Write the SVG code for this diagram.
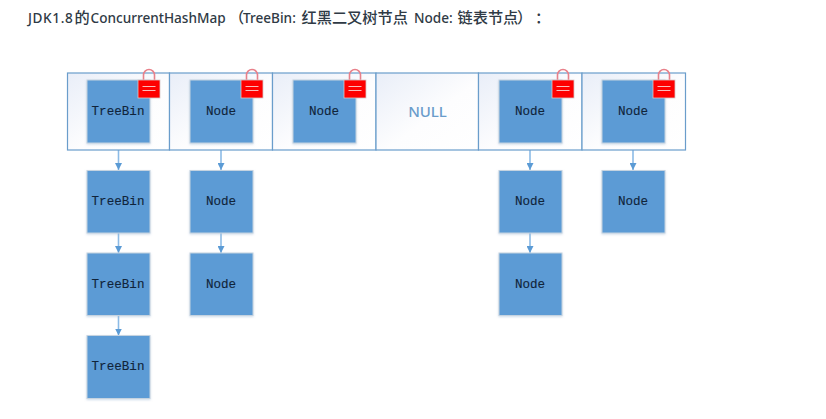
<svg xmlns="http://www.w3.org/2000/svg" width="826" height="419" viewBox="0 0 826 419">
<style>
.cell{stroke:#6a9dcb;stroke-width:1.2}
.n{fill:#5b9bd5;stroke:#c5d3e0;stroke-width:1;filter:url(#s)}
.t{font:12.6px "Liberation Mono","DejaVu Sans Mono",monospace;fill:#10243a;stroke:#10243a;stroke-width:.12;text-anchor:middle}
.c{stroke:#8cbbe6;stroke-width:1.6;fill:none;marker-end:url(#a)}
.lk{fill:#fe0000;stroke:#d8c8c8;stroke-width:.8}
.sh{fill:none;stroke:#e8808a;stroke-width:1.6}
.ln{stroke:#fbd0d0;stroke-width:.9}
.ti{font-family:"Noto Sans","Noto Sans CJK SC",sans-serif;font-size:13.6px;font-weight:500;fill:#2f3a45}
.cj{font-family:"Noto Sans CJK SC",sans-serif;font-size:15.2px;font-weight:500}
.sp{letter-spacing:.6px}
</style>
<defs>
<linearGradient id="g" x1="0" y1="0" x2="1" y2="1"><stop offset="0" stop-color="#e9eef8"/><stop offset=".55" stop-color="#fdfdfe"/><stop offset="1" stop-color="#fff"/></linearGradient>
<filter id="s" x="-10%" y="-10%" width="120%" height="120%"><feDropShadow dx="0" dy="1" stdDeviation="1" flood-color="#9db8d4" flood-opacity=".5"/></filter>
<marker id="a" markerUnits="userSpaceOnUse" markerWidth="8" markerHeight="7" refX="7" refY="3.500" orient="auto"><path d="M0 0L7 3.500L0 7Z" fill="#5b9bd5"/></marker>
<g id="lock"><path class="sh" d="M5.500 11V6a5.500 5.500 0 0 1 11 0V11"/><rect class="lk" x="0" y="11" width="22" height="18"/><path class="ln" d="M4.500 17.500H17.500M4.500 21.500H17.500"/></g>
</defs>
<rect width="826" height="419" fill="#fff"/>
<text class="ti" y="23"><tspan class="sp" x="28">JDK1.8</tspan><tspan class="cj" x="74.500">的</tspan><tspan x="90.500">ConcurrentHashMap</tspan><tspan class="cj" x="229">（</tspan><tspan x="243">TreeBin:</tspan><tspan class="cj" x="301.500">红黑二叉树节点</tspan><tspan x="414">Node:</tspan><tspan class="cj" x="457.500">链表节点</tspan><tspan class="cj" x="517">）</tspan><tspan class="cj" x="535">：</tspan></text>
<g id="connectors">
<path class="c" d="M118.500 143V170"/><path class="c" d="M118.500 233V253"/><path class="c" d="M118.500 315.500V335.500"/>
<path class="c" d="M221 143V170"/><path class="c" d="M221 233V253"/>
<path class="c" d="M530 143V170"/><path class="c" d="M530 233V253"/>
<path class="c" d="M633 143V170"/>
</g>
<g id="cell0"><rect class="cell" x="67.500" y="73" width="102" height="77" fill="url(#g)"/></g>
<g id="cell1"><rect class="cell" x="169.500" y="73" width="103" height="77" fill="url(#g)"/></g>
<g id="cell2"><rect class="cell" x="272.500" y="73" width="103.500" height="77" fill="url(#g)"/></g>
<g id="cell3"><rect class="cell" x="376" y="73" width="102.500" height="77" fill="url(#g)"/><text x="427.500" y="116.500" font-family="'Noto Sans',sans-serif" font-size="15" font-weight="500" fill="#6a9ccb" text-anchor="middle">NULL</text></g>
<g id="cell4"><rect class="cell" x="478.500" y="73" width="103.500" height="77" fill="url(#g)"/></g>
<g id="cell5"><rect class="cell" x="582" y="73" width="103.500" height="77" fill="url(#g)"/></g>
<g id="n00"><rect class="n" x="87" y="80" width="63" height="63"/><text class="t" x="118" y="115">TreeBin</text><use href="#lock" x="138" y="69"/></g>
<g id="n01"><rect class="n" x="190" y="80" width="63" height="63"/><text class="t" x="221" y="115">Node</text><use href="#lock" x="241" y="69"/></g>
<g id="n02"><rect class="n" x="293" y="80" width="63" height="63"/><text class="t" x="324" y="115">Node</text><use href="#lock" x="344" y="69"/></g>
<g id="n04"><rect class="n" x="499" y="80" width="63" height="63"/><text class="t" x="530" y="115">Node</text><use href="#lock" x="552" y="69"/></g>
<g id="n05"><rect class="n" x="602" y="80" width="63" height="63"/><text class="t" x="633" y="115">Node</text><use href="#lock" x="653" y="69"/></g>
<g id="n10"><rect class="n" x="87" y="170.500" width="63" height="62.500"/><text class="t" x="118" y="205">TreeBin</text></g>
<g id="n20"><rect class="n" x="87" y="253" width="63" height="62.500"/><text class="t" x="118" y="288">TreeBin</text></g>
<g id="n30"><rect class="n" x="87" y="335.500" width="63" height="63"/><text class="t" x="118" y="370">TreeBin</text></g>
<g id="n11"><rect class="n" x="190" y="170.500" width="63" height="62.500"/><text class="t" x="221" y="205">Node</text></g>
<g id="n21"><rect class="n" x="190" y="253" width="63" height="62.500"/><text class="t" x="221" y="288">Node</text></g>
<g id="n14"><rect class="n" x="499" y="170.500" width="63" height="62.500"/><text class="t" x="530" y="205">Node</text></g>
<g id="n24"><rect class="n" x="499" y="253" width="63" height="62.500"/><text class="t" x="530" y="288">Node</text></g>
<g id="n15"><rect class="n" x="602" y="170.500" width="63" height="62.500"/><text class="t" x="633" y="205">Node</text></g>
</svg>
